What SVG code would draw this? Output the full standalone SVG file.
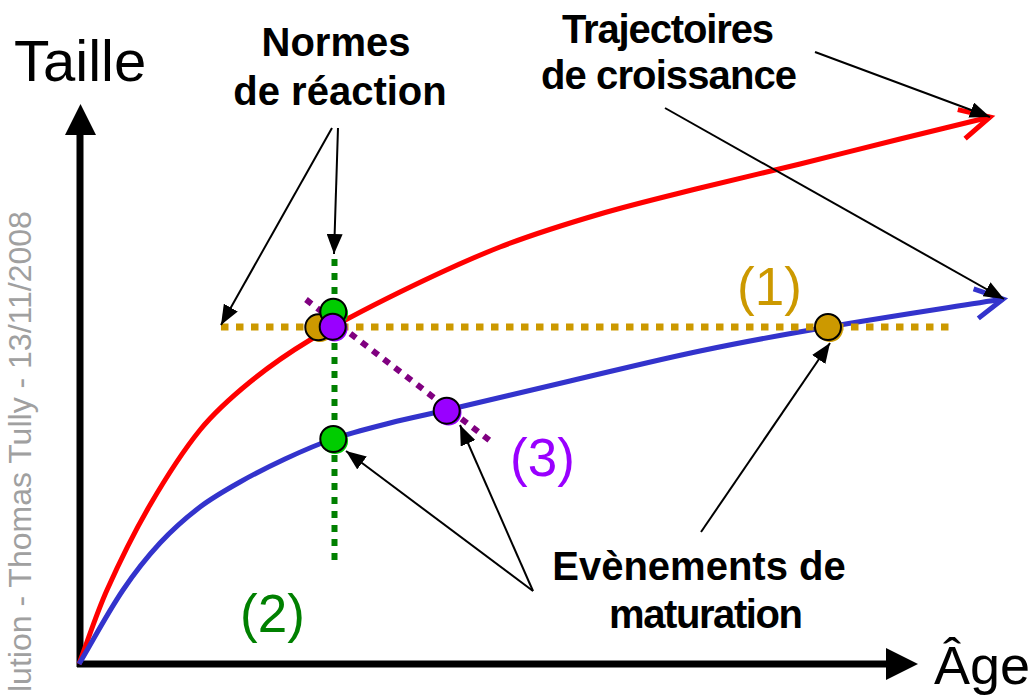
<svg xmlns="http://www.w3.org/2000/svg" width="1035" height="696" viewBox="0 0 1035 696">
<style>
text{font-family:"Liberation Sans",Arial,sans-serif}
.lbl{font-weight:bold;font-size:40px;fill:#000;text-anchor:middle}
.ax{font-size:58px;fill:#000}
.ax2{font-size:54px;fill:#000}
.num{font-size:53px}
.conn{stroke:#000;stroke-width:2;fill:none;marker-end:url(#ah)}
.curve{fill:none;stroke-width:5}
.dot{fill:none}
.c{stroke:#000;stroke-width:2}
</style>
<defs>
<marker id="ah" viewBox="0 0 20 16" refX="20" refY="8" markerWidth="20" markerHeight="16" markerUnits="userSpaceOnUse" orient="auto"><path d="M0,0 L20,8 L0,16 z" fill="#000"/></marker>
</defs>
<rect width="1035" height="696" fill="#fff"/>
<text transform="translate(31,692) rotate(-90)" font-size="32" fill="#A0A0A0">lution - Thomas Tully - 13/11/2008</text>
<g id="axes">
<path d="M80,667 V132 M77,664 H888" stroke="#000" stroke-width="7" fill="none"/>
<path d="M80.5,104 L96,135 L65,135 z M918,664 L886,648 L886,680 z" fill="#000"/>
<text class="ax" x="14" y="81">Taille</text>
<text class="ax2" x="934" y="684">Âge</text>
</g>
<g id="curves">
<path id="red-curve" class="curve" stroke="#FF0000" d="M79,664 C88.3,639.3 96.2,614.1 107,590 C120,561 134,532.5 150,505 C165.1,479.1 181.1,453.3 200,430 C214.6,412.1 232.1,396.6 250,382 C268.9,366.6 289.1,352.6 310,340 C339.2,322.5 369.5,307 400,292 C432.9,275.9 465.9,260.3 500,247 C532.7,234.3 566.3,223.9 600,214 C633,204.3 666.6,196.4 700,188 C733.3,179.7 766.7,172.2 800,164 C833.4,155.8 866.6,147.3 900,139 C930,131.6 960,124.4 990,117"/>
<polyline class="curve" stroke="#FF0000" points="957.8,109.6 990,117 965.1,138.7"/>
<path id="blue-curve" class="curve" stroke="#3333CC" d="M79,664 C93.7,639.3 107,613.8 123,590 C134.1,573.5 146.5,557.6 160,543 C172.2,529.9 185.8,517.8 200,507 C212.5,497.5 226.3,489.7 240,482 C254.6,473.7 269.8,466.1 285,459 C300.7,451.7 316.6,444.6 333,439 C351.6,432.6 370.9,427.9 390,423 C408.9,418.2 428,414.4 447,410 C488,400.4 529,390.6 570,381 C613.3,370.9 656.4,360.1 700,351 C742.5,342.1 785.2,334.3 828,327 C886.3,317 944.7,308.3 1003,299"/>
<polyline class="curve" stroke="#3333CC" points="973.6,288.9 1003,299 978.3,318.4"/>
</g>
<g id="norms">
<line id="norm-1" class="dot" x1="221" y1="327" x2="951" y2="327" stroke="#CC9900" stroke-width="7" stroke-dasharray="7.5 7.5"/>
<line id="norm-2" class="dot" x1="334.5" y1="259" x2="334.5" y2="560" stroke="#008000" stroke-width="6" stroke-dasharray="7 7"/>
<line id="norm-3" class="dot" x1="306" y1="299.5" x2="493" y2="443" stroke="#800080" stroke-width="6" stroke-dasharray="7 7"/>
<text class="num" x="737" y="305" fill="#CC9900">(1)</text>
<text class="num" x="240" y="632" fill="#008000">(2)</text>
<text class="num" x="510" y="476" fill="#9900FF">(3)</text>
</g>
<g id="events">
<g id="ev-gold-1"><circle cx="320" cy="329" r="13" fill="#CC9900"/><circle class="c" cx="318.3" cy="327.3" r="13" fill="#CC9900"/></g>
<g id="ev-green-1"><circle cx="335" cy="313.5" r="13" fill="#00CC00"/><circle class="c" cx="333.3" cy="311.7" r="13" fill="#00CC00"/></g>
<g id="ev-purple-1"><circle cx="334.5" cy="328.5" r="13" fill="#9900FF"/><circle class="c" cx="332.7" cy="326.7" r="13" fill="#9900FF"/></g>
<g id="ev-green-2"><circle cx="335" cy="441" r="13" fill="#00CC00"/><circle class="c" cx="333.3" cy="439" r="13" fill="#00CC00"/></g>
<g id="ev-purple-2"><circle cx="448.5" cy="412.5" r="13" fill="#9900FF"/><circle class="c" cx="446.7" cy="410.7" r="13" fill="#9900FF"/></g>
<g id="ev-gold-2"><circle cx="830" cy="329" r="13" fill="#CC9900"/><circle class="c" cx="828" cy="327" r="13" fill="#CC9900"/></g>
</g>
<g id="connectors">
<line class="conn" x1="332" y1="128" x2="221" y2="325"/>
<line class="conn" x1="338" y1="128" x2="334" y2="254"/>
<line class="conn" x1="815" y1="52" x2="990" y2="117"/>
<line class="conn" x1="665" y1="108" x2="1004" y2="299"/>
<line class="conn" x1="533" y1="591" x2="346" y2="451"/>
<line class="conn" x1="533" y1="591" x2="460" y2="425"/>
<line class="conn" x1="701" y1="532" x2="830" y2="343"/>
</g>
<g id="label-normes">
<text class="lbl" x="336" y="56">Normes</text>
<text class="lbl" x="340" y="105">de réaction</text>
</g>
<g id="label-trajectoires">
<text class="lbl" x="668" y="43" textLength="212">Trajectoires</text>
<text class="lbl" x="669" y="89" textLength="256">de croissance</text>
</g>
<g id="label-evenements">
<text class="lbl" x="699" y="580">Evènements de</text>
<text class="lbl" x="706" y="628" textLength="194">maturation</text>
</g>
</svg>
